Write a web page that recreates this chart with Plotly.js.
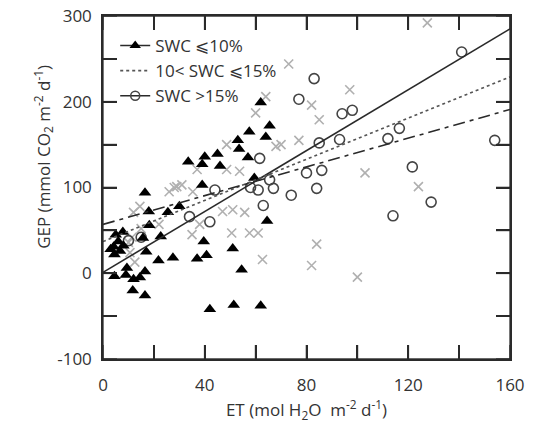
<!DOCTYPE html>
<html>
<head>
<meta charset="utf-8">
<script src="https://cdn.plot.ly/plotly-3.0.1.min.js"></script>
<style>html,body{margin:0;padding:0;background:#fff;}#chart{width:536px;height:435px;}</style>
</head>
<body>
<div id="chart"></div>
<script>
// SWC <= 10% (filled triangles)
const lowET = [62,65.5,64,57.5,53,53.5,57,45,40,39,33.5,46,39,16.5,59.5,64.5,18,25.5,30,18.2,7.8,6,4.2,6.7,4.5,15.7,22.7,17,21.8,27.5,37,40.7,39.6,51,54.5,9.4,4.5,9,12,16.5,14.5,11.7,16.5,42,51.4,62,5,3,8];
const lowGEP = [199,172,159,165,155,145,135,139,136,127,130,125,103,94,111,61,72,71,78,56,48,37,31,26,22,41,43,25,15,18,17,21,37,29,4,6,-3.5,-2,-7,2,-5,-20,-26,-42,-37,-38,45,28,32];
// 10 < SWC <= 15% (grey crosses)
const midET = [127.5,73,97,82,85,77,68,60,103,124,84,82,100,50.6,57.6,61,62.7,48.6,53.7,51,55.7,47,48.6,37,29,26,35.3,14.5,12,28,31,22,15,11.4,10,10.6,35,12.5,38,70,64];
const midGEP = [292,244,214,196,179,155,148,187,117,101,34,9,-4.6,47,47,47,16,121,119,74,71,72,150,121,101,95,95,78,71,100,103,57,52,42,36,24,45,13,57,150,206];
// SWC > 15% (open circles)
const highET = [141,83,77,94,98,116.5,112,93,85,154,121.6,129,114,80,86,84,74,67,61.6,44,58,61,63,65.5,42,34,10,15];
const highGEP = [258,227,203,186,190,169,157,156,152,155,124,83,67,117,120,99,91,99,134,97,100,97,79,109,60,66,38,42];
// regression lines (endpoints of fitted lines)
const fitET = [0,160];
const fitLow = [1,285];
const fitMid = [37,229];
const fitHigh = [57,191];

const xRange = [0,160];
const yRange = [-100,300];
const xTickVals = [0,20,40,60,80,100,120,140,160];
const xTickText = ['0','','40','','80','','120','','160'];
const yTickVals = [-100,-50,0,50,100,150,200,250,300];
const yTickText = ['-100','','0','','100','','200','','300'];

const FONT = 'Open Sans, Noto Sans, sans-serif';
const DARK = '#2a2a2a';
const W = 536, H = 435, ML = 103, MR = 26, MT = 16, MB = 76;
const PW = W - ML - MR, PH = H - MT - MB;
const TICKLEN = 14;
const SYM = 1.4; // plotly line-ew / line-ns symbols are 1.4 x marker size long
const tx = TICKLEN * (xRange[1] - xRange[0]) / PW;
const ty = TICKLEN * (yRange[1] - yRange[0]) / PH;
const xMid = (xRange[0] + xRange[1]) / 2, yMid = (yRange[0] + yRange[1]) / 2;

// frame edges and inward ticks as line-shaped markers, built from axis ranges and tick arrays
const fx = [xMid, xMid, xRange[0], xRange[1]];
const fy = [yRange[0], yRange[1], yMid, yMid];
const fs = [(PW + 1.5) / SYM, (PW + 1.5) / SYM, (PH + 1.5) / SYM, (PH + 1.5) / SYM];
const fsym = ['line-ew-open', 'line-ew-open', 'line-ns-open', 'line-ns-open'];
xTickVals.forEach(v => {
  fx.push(v, v); fy.push(yRange[0] + ty / 2, yRange[1] - ty / 2);
  fs.push(TICKLEN / SYM, TICKLEN / SYM); fsym.push('line-ns-open', 'line-ns-open');
});
yTickVals.forEach(v => {
  fx.push(xRange[0] + tx / 2, xRange[1] - tx / 2); fy.push(v, v);
  fs.push(TICKLEN / SYM, TICKLEN / SYM); fsym.push('line-ew-open', 'line-ew-open');
});

const traces = [
  {x: midET, y: midGEP, mode:'markers', type:'scatter', showlegend:false,
   marker:{symbol:'x-thin-open', size:9, color:'#b0b0b0', line:{color:'#b0b0b0', width:1.6}}},
  {x: highET, y: highGEP, mode:'markers', type:'scatter', showlegend:false,
   marker:{symbol:'circle-open', size:10, color:'#444', line:{color:'#444', width:1.6}}},
  {x: lowET, y: lowGEP, mode:'markers', type:'scatter', showlegend:false,
   marker:{symbol:'triangle-up', size:11, color:'#000'}},
  {x: fitET, y: fitLow, mode:'lines', type:'scatter', showlegend:false,
   line:{color:DARK, width:1.6}},
  {x: fitET, y: fitMid, mode:'lines', type:'scatter', showlegend:false,
   line:{color:'#555', width:1.6, dash:'dot'}},
  {x: fitET, y: fitHigh, mode:'lines', type:'scatter', showlegend:false,
   line:{color:DARK, width:1.6, dash:'12px,5px,4px,5px'}},
  {x: fx, y: fy, mode:'markers', type:'scatter', showlegend:false, cliponaxis:false, hoverinfo:'skip',
   marker:{symbol:fsym, size:fs, color:DARK, line:{color:DARK, width:1.8}}},
  // legend entries
  {x:[null], y:[null], mode:'lines+markers', type:'scatter', name:'SWC ⩽10%',
   line:{color:DARK, width:1.6}, marker:{symbol:'triangle-up', size:10, color:'#000'}},
  {x:[null], y:[null], mode:'lines', type:'scatter', name:'10< SWC ⩽15%',
   line:{color:'#555', width:1.6, dash:'dot'}},
  {x:[null], y:[null], mode:'lines+markers', type:'scatter', name:'SWC >15%',
   line:{color:DARK, width:1.6}, marker:{symbol:'circle-open', size:9, color:'#444', line:{color:'#444', width:1.5}}}
];

const layout = {
  width:W, height:H,
  margin:{l:ML, r:MR, t:MT, b:MB},
  paper_bgcolor:'#fff', plot_bgcolor:'#fff',
  font:{family:FONT, size:17, color:'#333'},
  xaxis: {
    showgrid:false, zeroline:false, showline:true, linecolor:DARK, linewidth:1.5,
    mirror:'ticks', ticks:'inside', ticklen:TICKLEN, tickwidth:1.5, tickcolor:DARK,
    ticklabelstandoff:10,
    tickfont:{family:FONT, size:17, color:'#333'},
    range:xRange, tickmode:'array', tickvals:xTickVals, ticktext:xTickText,
    title:{text:'ET (mol H<sub>2</sub>O  m<sup>-2</sup> d<sup>-1</sup>)', font:{family:FONT, size:17, color:'#333'}, standoff:6}
  },
  yaxis: {
    showgrid:false, zeroline:false, showline:true, linecolor:DARK, linewidth:1.5,
    mirror:'ticks', ticks:'inside', ticklen:TICKLEN, tickwidth:1.5, tickcolor:DARK,
    ticklabelstandoff:6,
    tickfont:{family:FONT, size:17, color:'#333'},
    range:yRange, tickmode:'array', tickvals:yTickVals, ticktext:yTickText
  },
  annotations:[{
    text:'GEP (mmol CO<sub>2</sub> m<sup>-2</sup> d<sup>-1</sup>)',
    xref:'paper', yref:'paper', x:-0.185, y:0.59, textangle:-90,
    showarrow:false, font:{family:FONT, size:17, color:'#333'}
  }],
  legend:{x:0.03, y:0.965, xanchor:'left', yanchor:'top', bgcolor:'rgba(0,0,0,0)',
    font:{family:FONT, size:17, color:'#333'}, tracegroupgap:0}
};

Plotly.newPlot('chart', traces, layout, {displayModeBar:false});
</script>
</body>
</html>
